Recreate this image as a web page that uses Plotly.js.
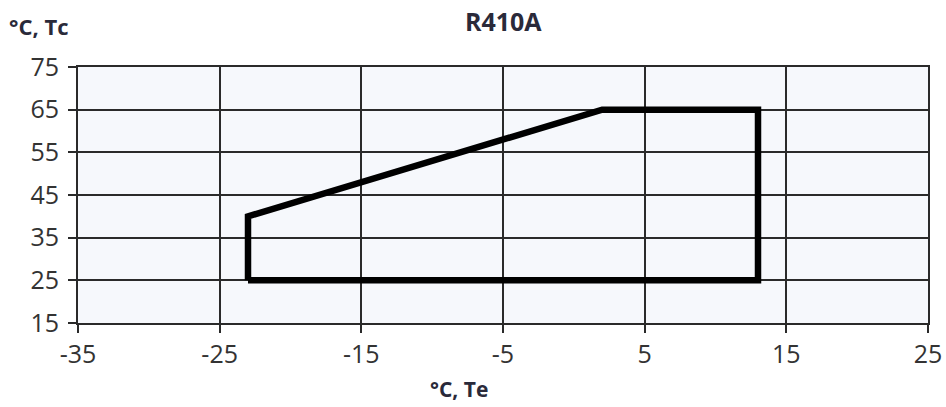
<!DOCTYPE html>
<html>
<head>
<meta charset="utf-8">
<script src="https://cdn.plot.ly/plotly-3.0.1.min.js"></script>
<style>html,body{margin:0;padding:0;background:#fff;}#chart{width:946px;height:407px;}</style>
</head>
<body>
<div id="chart"></div>
<script>
// Envelope corners (Te, Tc)
const envelopeTe = [-23, -23, 2, 13, 13, -23];
const envelopeTc = [25, 40, 65, 65, 25, 25];
const xTicks = [-35, -25, -15, -5, 5, 15, 25];
const yTicks = [15, 25, 35, 45, 55, 65, 75];
const chartTitle = 'R410A';
const xLabel = '°C, Te';
const yLabel = '°C, Tc';

const fontFam = '"Open Sans", "Noto Sans", sans-serif';
const gridCol = '#2a2a2a';
const trace = {
  x: envelopeTe, y: envelopeTc, type: 'scatter', mode: 'lines',
  line: {color: '#000', width: 6.5}, hoverinfo: 'skip'
};
const layout = {
  width: 946, height: 407,
  margin: {l: 78, r: 18, t: 67, b: 84},
  paper_bgcolor: '#fff', plot_bgcolor: '#f6f8fc',
  showlegend: false,
  title: {text: '<b>' + chartTitle + '</b>', x: 0.532, xanchor: 'center', y: 0.945, yanchor: 'middle',
          font: {family: fontFam, size: 25, color: '#2a2a3a'}},
  xaxis: {
    range: [-35, 25], tickvals: xTicks, ticktext: xTicks.map(String),
    showgrid: true, gridcolor: gridCol, gridwidth: 2,
    showline: true, linecolor: gridCol, linewidth: 2, mirror: true,
    ticks: 'outside', ticklen: 8, tickcolor: gridCol, tickwidth: 2,
    zeroline: false,
    tickfont: {family: fontFam, size: 25, color: '#333'}
  },
  yaxis: {
    range: [15, 75], tickvals: yTicks, ticktext: yTicks.map(String),
    showgrid: true, gridcolor: gridCol, gridwidth: 2,
    showline: true, linecolor: gridCol, linewidth: 2, mirror: true,
    ticks: 'outside', ticklen: 8, tickcolor: gridCol, tickwidth: 2,
    ticklabelstandoff: 4,
    zeroline: false,
    tickfont: {family: fontFam, size: 25, color: '#333'}
  },
  annotations: [{
    text: '<b>' + yLabel + '</b>', xref: 'paper', yref: 'paper', x: -0.083, y: 1.16,
    xanchor: 'left', yanchor: 'middle', showarrow: false,
    font: {family: fontFam, size: 22, color: '#2a2a3a'}
  }, {
    text: '<b>' + xLabel + '</b>', xref: 'paper', yref: 'paper', x: (459 - 78) / 850, y: -(389 - 323) / 256,
    xanchor: 'center', yanchor: 'middle', showarrow: false,
    font: {family: fontFam, size: 21, color: '#2a2a3a'}
  }]
};
Plotly.newPlot('chart', [trace], layout, {displayModeBar: false, staticPlot: true});
</script>
</body>
</html>
